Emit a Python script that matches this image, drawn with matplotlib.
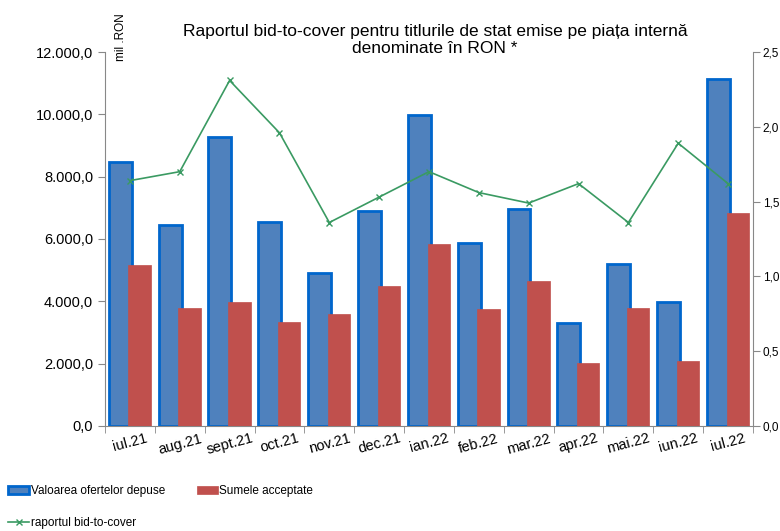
import matplotlib.pyplot as plt
import numpy as np
from matplotlib.ticker import FuncFormatter, FixedLocator

plt.rcParams['font.family'] = ['Liberation Sans', 'DejaVu Sans']

months = ['iul.21', 'aug.21', 'sept.21', 'oct.21', 'nov.21', 'dec.21', 'ian.22',
          'feb.22', 'mar.22', 'apr.22', 'mai.22', 'iun.22', 'iul.22']
oferte = [8470, 6450, 9260, 6550, 4910, 6890, 9990, 5860, 6960, 3310, 5180, 3980, 11120]
acceptate = [5160, 3780, 3980, 3330, 3590, 4480, 5840, 3750, 4640, 2030, 3780, 2090, 6840]
bid_to_cover = [1.64, 1.70, 2.31, 1.96, 1.36, 1.53, 1.70, 1.56, 1.49, 1.62, 1.36, 1.89, 1.62]


def fmt_left(v, pos):
    s = '{:,.1f}'.format(v)
    return s.replace(',', 'X').replace('.', ',').replace('X', '.')


def fmt_right(v, pos):
    return '{:.1f}'.format(v).replace('.', ',')


fig = plt.figure(figsize=(7.8, 5.31), dpi=100)
ax = fig.add_axes([0.1346, 0.198, 0.8308, 0.704])
x = np.arange(len(months))

b1 = ax.bar(x - 0.195, oferte, width=0.46, color='#4F81BD', edgecolor='#0066CC',
            linewidth=2, label='Valoarea ofertelor depuse', zorder=2)
b2 = ax.bar(x + 0.195, acceptate, width=0.45, color='#C0504D', edgecolor='#C0504D',
            linewidth=0.5, label='Sumele acceptate', zorder=3)

ax.set_xlim(-0.5, len(months) - 0.5)
ax.set_ylim(0, 12000)
ax.set_yticks(np.arange(0, 12001, 2000))
ax.yaxis.set_major_formatter(FuncFormatter(fmt_left))
ax.set_xticks(x)
ax.set_xticklabels(months, rotation=15, fontsize=10.5)
ax.tick_params(axis='x', which='major', length=0, pad=4)
ax.xaxis.set_minor_locator(FixedLocator(np.arange(-0.5, len(months), 1)))
ax.tick_params(axis='x', which='minor', length=5, color='#888888')
ax.tick_params(axis='y', labelsize=10.5, length=5, color='#888888')
for s in ['top', 'right']:
    ax.spines[s].set_visible(False)
for s in ['left', 'bottom']:
    ax.spines[s].set_color('#888888')

ax2 = ax.twinx()
l1, = ax2.plot(x, bid_to_cover, color='#3A9A62', marker='x', markersize=4,
               linewidth=1.2, label='raportul bid-to-cover', zorder=4)
ax2.set_ylim(0, 2.5)
ax2.set_yticks(np.arange(0, 2.51, 0.5))
ax2.yaxis.set_major_formatter(FuncFormatter(fmt_right))
ax2.tick_params(axis='y', labelsize=8.5, length=5, color='#888888', pad=2)
for s in ['top', 'left', 'bottom']:
    ax2.spines[s].set_visible(False)
ax2.spines['right'].set_color('#888888')

fig.text(0.558, 0.925, 'Raportul bid-to-cover pentru titlurile de stat emise pe piața internă\ndenominate în RON *',
         ha='center', va='center', fontsize=12.5, linespacing=1.2)
fig.text(0.155, 0.93, 'mil .RON', rotation=90, ha='center', va='center', fontsize=8.5)

fig.legend([b1, l1, b2], ['Valoarea ofertelor depuse', 'raportul bid-to-cover', 'Sumele acceptate'],
           loc='lower left', bbox_to_anchor=(-0.003, -0.016), ncol=2, frameon=False, fontsize=8.5,
           handlelength=1.75, handletextpad=0.15, columnspacing=2.7, labelspacing=1.68)

fig.savefig('out.png', dpi=100)
